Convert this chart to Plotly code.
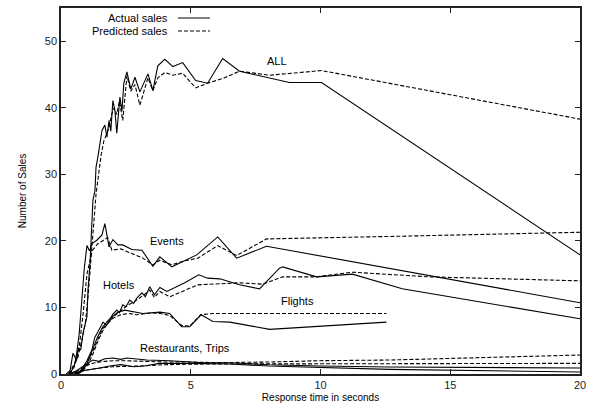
import plotly.graph_objects as go

# ---------------- data ----------------
all_act_x = [0.2,0.35,0.46,0.6,0.67,0.76,0.85,1.0,1.04,1.12,1.19,1.23,1.31,1.35,1.42,1.5,1.58,1.69,1.77,1.85,1.92,2.0,2.08,2.15,2.27,2.35,2.42,2.54,2.69,2.85,3.04,3.35,3.54,3.73,4.0,4.31,4.69,5.19,5.65,6.23,6.88,8.8,10.04,20]
all_act_y = [0,0.5,3.1,2.1,3.9,3.6,6.1,8.6,12.6,16.7,22.7,26.1,27.6,31.1,32.6,34.6,36.6,37.4,35.6,38.1,36.5,41.1,39.5,36.2,41.6,39.5,43.7,45.4,42.8,44.6,42.4,45.1,42.6,46.3,47.3,46.2,46.8,44.1,43.7,47.4,45.5,43.8,43.8,17.9]

all_pred_x = [0.3,0.5,0.65,0.8,0.95,1.05,1.15,1.25,1.35,1.45,1.55,1.65,1.75,1.85,1.95,2.05,2.15,2.25,2.38,2.54,2.69,2.85,3.04,3.35,3.54,3.73,4.0,4.31,4.69,5.19,5.65,6.23,6.88,8.04,10.04,20]
all_pred_y = [0,1.5,2.5,5,8,12,17,22,27,30,33,35,36,37,39,40,39,41,38.1,44.8,42.5,43.5,40.4,44.5,42.6,44.5,45.3,44.9,45.2,43,43.7,44.4,45.5,44.9,45.6,38.3]

events_act_x = [0.3,0.5,0.6,0.7,0.8,0.9,1.0,1.1,1.19,1.38,1.58,1.69,1.85,2.0,2.19,2.38,2.73,3.12,3.54,3.81,4.27,4.77,5.23,6.04,6.77,7.92,20]
events_act_y = [0,1,3,6,11,16,19.3,18.5,19.6,20.1,20.9,22.6,19.1,20.2,19.4,19.4,18.7,18.6,16.2,17.6,16.1,17.1,17.9,20.6,17.4,19.2,10.7]

events_pred_x = [0.35,0.55,0.7,0.85,1.0,1.2,1.4,1.6,1.8,1.96,2.3,2.73,3.12,3.54,3.81,4.27,4.77,5.27,6.04,6.77,7.92,13.04,20]
events_pred_y = [0,1.5,4,9,15,18.5,19.5,20,20.5,18.6,18.8,18.1,17.5,16.4,17.1,16.4,17,17.4,19.3,17.8,20.3,20.7,21.3]

hotels_act_x = [0.5,0.7,0.85,1.0,1.19,1.3,1.42,1.62,1.75,1.88,2.0,2.15,2.25,2.38,2.5,2.65,2.8,2.92,3.12,3.25,3.42,3.6,3.81,4.08,4.77,5.31,5.65,6.12,6.88,7.65,8.42,8.54,9.85,11.23,13.15,20]
hotels_act_y = [0,0.3,1,2,3.6,5.5,6.3,7.8,7.3,8.1,9,9.6,9.2,10.4,10.1,11.1,10.6,11.4,12.2,11.6,13.1,11.9,13.0,12.4,13.7,14.9,14.4,14.3,13.4,12.8,15.9,16.1,14.6,15.0,12.8,8.3]

hotels_pred_x = [0.55,0.75,0.9,1.05,1.2,1.4,1.6,1.8,2.0,2.2,2.4,2.6,2.8,3.0,3.2,3.42,3.6,3.81,4.19,5.27,6.88,7.77,8.42,8.54,9.85,11.23,14.19,20]
hotels_pred_y = [0,0.3,1,2,3.2,5,6.8,7.6,8.5,9.2,9.8,10.4,10.8,11.3,11.9,12.6,11.5,12.4,11.6,13.4,13.7,13.5,14.4,14.6,14.6,15.3,14.6,14.0]

flights_act_x = [0.6,0.8,1.0,1.2,1.4,1.6,1.8,2.0,2.2,2.46,3.15,3.81,4.19,4.65,4.96,5.4,5.85,6.5,7.92,8.04,12.54]
flights_act_y = [0,0.4,1.5,3.5,5.5,7,8,8.7,9.3,9.6,9.1,9.3,9.1,7.1,7.1,8.9,7.9,7.8,6.7,6.7,7.8]

flights_pred_x = [0.65,0.85,1.05,1.25,1.45,1.65,1.85,2.05,2.3,2.6,2.92,3.5,3.81,4.19,4.65,4.96,5.38,5.85,12.54]
flights_pred_y = [0,0.5,1.5,3.2,5.2,6.8,7.8,8.5,8.9,9.1,8.9,9.2,9.1,8.8,7.3,7.2,8.9,9.1,9.1]

rest_act_x = [0.3,0.6,0.9,1.23,1.45,1.69,2.0,2.3,2.54,3.0,3.3,4.2,5.5,6.5,8,10,12.65,20]
rest_act_y = [0,0.5,1.3,2.1,1.9,2.3,2.4,2.2,2.4,2.2,2.1,2.0,1.7,1.7,1.4,1.2,1.05,0.9]

rest_pred_x = [0.35,0.7,1.0,1.3,1.7,2.0,2.5,3.0,4.0,5.0,6.0,8.0,10,12.65,20]
rest_pred_y = [0,0.6,1.3,1.7,1.9,2.0,2.0,1.9,1.8,1.8,1.7,1.8,2.0,2.1,2.85]

trips_act_x = [0.3,0.6,1.0,1.5,1.88,2.3,2.8,3.2,3.8,5,6.5,8,10,12.65,20]
trips_act_y = [0,0.3,0.6,0.9,1.2,1.4,1.1,1.2,1.6,1.6,1.5,1.2,1.0,0.7,0.3]

trips_pred_x = [0.3,0.6,1.0,1.5,2.0,3.0,4.0,5.5,7,10,12.65,20]
trips_pred_y = [0,0.3,0.6,0.9,1.1,1.2,1.4,1.5,1.5,1.6,1.6,1.6]

x_ticks = [0, 5, 10, 15, 20]
y_ticks = [0, 10, 20, 30, 40, 50]

labels = ["ALL", "Events", "Hotels", "Flights", "Restaurants, Trips"]
label_x = [8.33, 4.08, 2.23, 9.1, 4.77]
label_y = [47.0, 20.0, 13.3, 11.0, 3.9]

legend_names = ["Actual sales", "Predicted sales"]

# ---------------- figure ----------------
FONT = "Liberation Sans, Arial, Helvetica, sans-serif"
DASH = "4px,2px"
fig = go.Figure()

series = [
    (all_act_x, all_act_y, "solid"), (all_pred_x, all_pred_y, DASH),
    (events_act_x, events_act_y, "solid"), (events_pred_x, events_pred_y, DASH),
    (hotels_act_x, hotels_act_y, "solid"), (hotels_pred_x, hotels_pred_y, DASH),
    (flights_act_x, flights_act_y, "solid"), (flights_pred_x, flights_pred_y, DASH),
    (rest_act_x, rest_act_y, "solid"), (rest_pred_x, rest_pred_y, DASH),
    (trips_act_x, trips_act_y, "solid"), (trips_pred_x, trips_pred_y, DASH),
]
for xs, ys, d in series:
    fig.add_trace(go.Scatter(x=xs, y=ys, mode="lines",
                             line=dict(color="black", width=1.1, dash=d),
                             showlegend=False, hoverinfo="skip"))

for t, lx, ly in zip(labels, label_x, label_y):
    fig.add_annotation(x=lx, y=ly, text=t, showarrow=False,
                       font=dict(family=FONT, size=11, color="black"),
                       xanchor="center", yanchor="middle")

# gnuplot-style key: text then line sample
key_y = [0.9727, 0.937]
for name, ky, d in zip(legend_names, key_y, ["solid", DASH]):
    fig.add_annotation(xref="paper", yref="paper", x=0.21, y=ky, text=name,
                       showarrow=False, xanchor="right", yanchor="middle",
                       font=dict(family=FONT, size=11, color="black"))
    fig.add_shape(type="line", xref="paper", yref="paper",
                  x0=0.2254, x1=0.287, y0=ky, y1=ky,
                  line=dict(color="black", width=1.1, dash=d))

axis_common = dict(showgrid=False, zeroline=False, showline=True, linecolor="#222",
                   linewidth=1.5, mirror="ticks", ticks="inside", ticklen=5,
                   tickcolor="#222", tickwidth=1, automargin=False,
                   tickfont=dict(family=FONT, size=11, color="#222"))

fig.update_xaxes(range=[0, 20], tickvals=x_ticks,
                 title=dict(text="Response time in seconds", standoff=4,
                            font=dict(family=FONT, size=10, color="black")),
                 **axis_common)
fig.update_yaxes(range=[0, 55], tickvals=y_ticks,
                 title=dict(text="Number of Sales", standoff=16,
                            font=dict(family=FONT, size=10, color="black")),
                 **axis_common)

fig.update_layout(width=590, height=410,
                  margin=dict(l=61, r=10, t=8, b=36),
                  paper_bgcolor="white", plot_bgcolor="white",
                  font=dict(family=FONT))

fig.write_html("out.html", config={"displayModeBar": False},
               post_script="document.body.style.margin='0';")
